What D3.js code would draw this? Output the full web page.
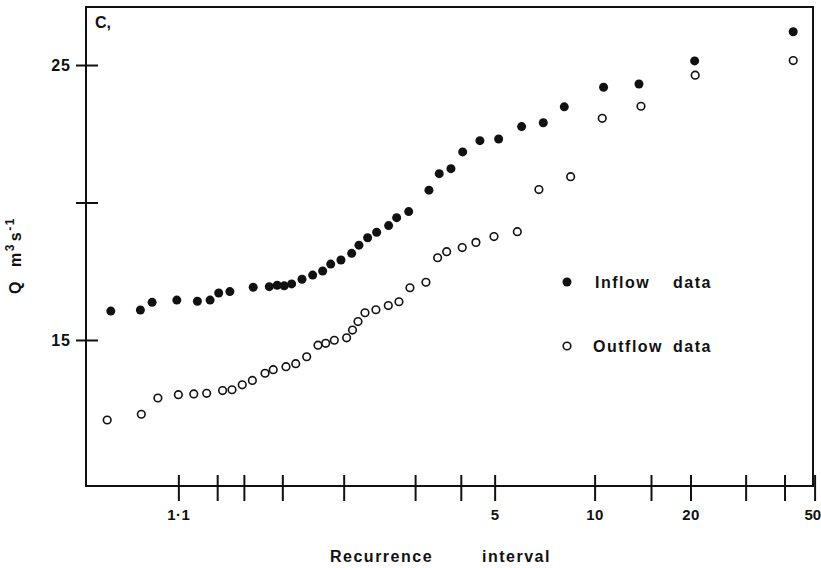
<!DOCTYPE html>
<html>
<head>
<meta charset="utf-8">
<script src="https://cdn.jsdelivr.net/npm/d3@7"></script>
<style>
body { margin:0; background:#fff; }
svg { font-family:"Liberation Sans", Arial, sans-serif; font-weight:bold; }
</style>
</head>
<body>
<svg></svg>
<script>
// recurrence interval (years) and discharge Q (m3/s)
var inflowT = [1.019,1.043,1.057,1.097,1.143,1.178,1.205,1.244,1.342,1.424,1.469,1.512,1.560,1.633,1.715,1.799,1.872,1.972,2.086,2.169,2.275,2.393,2.563,2.686,2.886,3.267,3.484,3.754,4.049,4.533,5.136,6.002,6.969,8.07,10.66,13.75,20.62,42.66]
var inflowQ = [16.05,16.09,16.37,16.45,16.41,16.45,16.71,16.76,16.92,16.94,16.99,16.97,17.04,17.21,17.36,17.51,17.76,17.91,18.15,18.45,18.72,18.92,19.16,19.45,19.67,20.45,21.05,21.23,21.84,22.25,22.31,22.76,22.90,23.48,24.19,24.31,25.15,26.21]

var outflowT = [1.017,1.044,1.065,1.100,1.134,1.168,1.218,1.252,1.293,1.338,1.401,1.446,1.523,1.588,1.668,1.759,1.826,1.906,2.031,2.095,2.158,2.242,2.383,2.558,2.723,2.908,3.207,3.449,3.652,4.037,4.415,4.978,5.828,6.761,8.439,10.56,13.95,20.70,42.66]
var outflowQ = [12.09,12.30,12.89,13.01,13.04,13.06,13.16,13.19,13.37,13.53,13.79,13.92,14.03,14.14,14.39,14.81,14.88,14.99,15.08,15.36,15.67,15.99,16.10,16.25,16.39,16.90,17.10,17.99,18.21,18.36,18.55,18.76,18.94,20.47,20.94,23.06,23.50,24.63,25.16]

var xTicks = [1.1,1.2,1.3,1.5,2,3,4,5,10,15,20,30,40,50]
var xTickLabels = ["1\u00b71","","","","","","","5","10","","20","","","50"]
var yTicks = [15,20,25]
var yTickLabels = ["15","","25"]

var legendNames = ["Inflow","Outflow"]

var screen = {width:821,height:568}
var margins = {top:7,right:8,bottom:82,left:86}
var width = screen.width - margins.left - margins.right
var height = screen.height - margins.top - margins.bottom

// Gumbel reduced variate for a recurrence interval
var gumbel = function(T)
{
    return -Math.log(-Math.log(1 - 1/T))
}

var xScale = d3.scaleLinear().domain([-1.568,3.89]).range([0,width])
var yScale = d3.scaleLinear().domain([9.69,27.11]).range([height,0])

var svg = d3.select("svg")
    .attr("width",screen.width)
    .attr("height",screen.height)

var graph = svg.append("g")
    .attr("transform","translate("+margins.left+","+margins.top+")")

// frame
graph.append("rect")
    .attr("width",width)
    .attr("height",height)
    .attr("fill","none")
    .attr("stroke","#111")
    .attr("stroke-width",2)

var xAxis = d3.axisBottom(xScale)
    .tickValues(xTicks.map(gumbel))
    .tickFormat(function(d,i){ return xTickLabels[i] })

var yAxis = d3.axisLeft(yScale)
    .tickValues(yTicks)
    .tickFormat(function(d,i){ return yTickLabels[i] })

var gx = graph.append("g")
    .attr("transform","translate(0,"+height+")")
    .call(xAxis)
gx.select(".domain").remove()
gx.selectAll("line").attr("y1",-11).attr("y2",15).attr("stroke","#111").attr("stroke-width",2)
gx.selectAll("text").attr("y",23).attr("font-size",15).attr("letter-spacing",0.5).attr("fill","#111")
// last label sits against the right edge, as in the original
gx.selectAll("text").filter(function(d,i){ return i==xTicks.length-1 })
    .attr("text-anchor","end").attr("x",6).attr("letter-spacing",0)

var gy = graph.append("g").call(yAxis)
gy.select(".domain").remove()
gy.selectAll("line").attr("x1",12).attr("x2",-10).attr("stroke","#111").attr("stroke-width",2)
gy.selectAll("text").attr("x",-15).attr("font-size",16).attr("letter-spacing",1).attr("fill","#111")

graph.selectAll(".inflow")
    .data(d3.zip(inflowT,inflowQ))
    .enter()
    .append("circle")
    .attr("class","inflow")
    .attr("cx",function(d){ return xScale(gumbel(d[0])) })
    .attr("cy",function(d){ return yScale(d[1]) })
    .attr("r",4.5)
    .attr("fill","#111")

graph.selectAll(".outflow")
    .data(d3.zip(outflowT,outflowQ))
    .enter()
    .append("circle")
    .attr("class","outflow")
    .attr("cx",function(d){ return xScale(gumbel(d[0])) })
    .attr("cy",function(d){ return yScale(d[1]) })
    .attr("r",3.8)
    .attr("fill","#fff")
    .attr("stroke","#111")
    .attr("stroke-width",1.6)

// legend
var legend = svg.selectAll(".legend")
    .data(legendNames)
    .enter()
    .append("g")
    .attr("class","legend")
    .attr("transform",function(d,i){ return "translate(567,"+(282+i*64)+")" })

legend.append("circle")
    .attr("r",function(d,i){ return i==0 ? 4.5 : 3.8 })
    .attr("fill",function(d,i){ return i==0 ? "#111" : "#fff" })
    .attr("stroke","#111")
    .attr("stroke-width",function(d,i){ return i==0 ? 0 : 1.6 })

var lt = legend.append("text")
    .attr("y",6)
    .attr("font-size",16)
    .attr("letter-spacing",1.5)
    .attr("fill","#111")
lt.append("tspan").attr("x",function(d,i){ return i==0 ? 28 : 26 }).text(function(d){ return d })
lt.append("tspan").attr("x",106).text("data")

// titles
svg.append("text")
    .attr("x",95)
    .attr("y",28)
    .attr("font-size",16)
    .attr("fill","#111")
    .text("C,")

svg.append("text")
    .attr("transform","translate(21,294) rotate(-90)")
    .attr("font-size",16)
    .attr("letter-spacing",1.5)
    .attr("fill","#111")
    .html('Q<tspan dx="13">m</tspan><tspan dy="-7" font-size="12">3</tspan><tspan dx="2" dy="7">s</tspan><tspan dy="-7" font-size="12">-1</tspan>')

svg.append("text")
    .attr("y",562)
    .attr("font-size",16)
    .attr("letter-spacing",1.5)
    .attr("fill","#111")
    .selectAll("tspan")
    .data(["Recurrence","interval"])
    .enter()
    .append("tspan")
    .attr("x",function(d,i){ return i==0 ? 330 : 482 })
    .text(function(d){ return d })
</script>
</body>
</html>
